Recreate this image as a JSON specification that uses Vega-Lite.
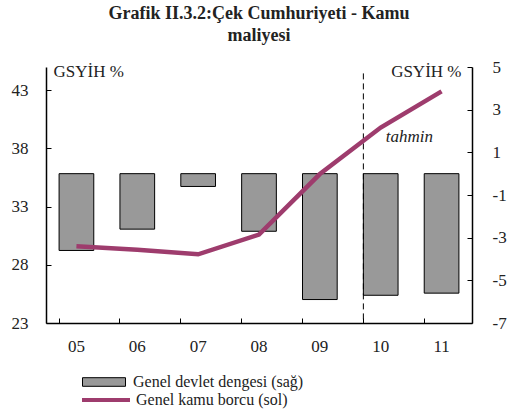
{
  "$schema": "https://vega.github.io/schema/vega-lite/v6.json",
  "autosize": "none",
  "width": 426,
  "height": 256,
  "padding": {"left": 46, "top": 67, "right": 39, "bottom": 91},
  "background": "white",
  "title": {
    "text": ["Grafik II.3.2:Çek Cumhuriyeti - Kamu", "maliyesi"],
    "font": "Liberation Serif",
    "fontSize": 18,
    "fontWeight": "bold",
    "color": "#222222",
    "anchor": "middle",
    "frame": "group",
    "offset": 13,
    "lineHeight": 22
  },
  "config": {
    "view": {"stroke": null},
    "axis": {
      "labelFont": "Liberation Serif",
      "labelFontSize": 17,
      "labelColor": "#222222",
      "domainColor": "#000000",
      "tickColor": "#000000",
      "grid": false,
      "titleFont": "Liberation Serif",
      "titleFontSize": 17,
      "titleFontWeight": "normal",
      "titleColor": "#222222"
    },
    "legend": {
      "labelFont": "Liberation Serif",
      "labelFontSize": 16,
      "labelColor": "#222222",
      "labelLimit": 400
    }
  },
  "data": {
    "values": [
      {"yil": "05", "denge": -3.6, "borc": 29.6},
      {"yil": "06", "denge": -2.6, "borc": 29.3},
      {"yil": "07", "denge": -0.6, "borc": 28.9},
      {"yil": "08", "denge": -2.7, "borc": 30.6},
      {"yil": "09", "denge": -5.9, "borc": 35.8},
      {"yil": "10", "denge": -5.7, "borc": 39.8},
      {"yil": "11", "denge": -5.6, "borc": 42.9}
    ]
  },
  "encoding": {
    "x": {
      "field": "yil",
      "type": "nominal",
      "sort": null,
      "scale": {"paddingInner": 0.43, "paddingOuter": 0.215},
      "axis": {
        "title": null,
        "labelAngle": 0,
        "bandPosition": 0,
        "tickSize": -5,
        "labelPadding": 20,
        "domainWidth": 1.5
      }
    }
  },
  "layer": [
    {
      "layer": [
        {
          "mark": {"type": "bar", "stroke": "#000000", "strokeWidth": 1},
          "encoding": {
            "y": {
              "field": "denge",
              "type": "quantitative",
              "scale": {"domain": [-7, 5], "nice": false},
              "axis": {
                "orient": "right",
                "values": [-7, -5, -3, -1, 1, 3, 5],
                "labelExpr": "replace(datum.label, '−', '-')",
                "tickSize": -5,
                "labelPadding": 25,
                "domainWidth": 1.5,
                "title": "GSYİH %",
                "titleAngle": 0,
                "titleAlign": "right",
                "titleBaseline": "middle",
                "titleX": -11,
                "titleY": 4
              }
            },
            "fill": {
              "datum": "Genel devlet dengesi  (sağ)",
              "type": "nominal",
              "scale": {"range": ["#999999"]},
              "legend": {
                "title": null,
                "orient": "none",
                "legendX": 36,
                "legendY": 293,
                "symbolType": "M-1,-0.2H1V0.2H-1Z",
                "symbolSize": 1849,
                "symbolStrokeColor": "#000000",
                "symbolStrokeWidth": 1,
                "labelOffset": 7
              }
            }
          }
        },
        {
          "data": {"values": [{"yil": "10"}]},
          "mark": {"type": "rule", "strokeDash": [6, 4], "color": "#000000", "strokeWidth": 1},
          "encoding": {
            "x": {"field": "yil", "type": "nominal", "bandPosition": 0},
            "y": {"datum": 4.7, "type": "quantitative"},
            "y2": {"datum": -7}
          }
        },
        {
          "data": {"values": [{"yil": "10", "denge": 1.7, "t": "tahmin"}]},
          "mark": {"type": "text", "font": "Liberation Serif", "fontStyle": "italic", "fontSize": 17, "color": "#222222", "align": "left", "dx": 5},
          "encoding": {
            "x": {"field": "yil", "type": "nominal"},
            "y": {"field": "denge", "type": "quantitative"},
            "text": {"field": "t"}
          }
        }
      ]
    },
    {
      "mark": {"type": "line", "strokeWidth": 4.5},
      "encoding": {
        "y": {
          "field": "borc",
          "type": "quantitative",
          "scale": {"domain": [23, 45], "nice": false, "zero": false},
          "axis": {
            "orient": "left",
            "values": [23, 28, 33, 38, 43],
            "tickSize": -5,
            "labelPadding": 23,
            "domainWidth": 1.5,
            "title": "GSYİH %",
            "titleAngle": 0,
            "titleAlign": "left",
            "titleBaseline": "middle",
            "titleX": 7,
            "titleY": 4
          }
        },
        "stroke": {
          "datum": "Genel kamu borcu  (sol)",
          "type": "nominal",
          "scale": {"range": ["#9e3c6d"]},
          "legend": {
            "title": null,
            "orient": "none",
            "legendX": 34,
            "legendY": 307,
            "symbolType": "stroke",
            "symbolSize": 2304,
            "symbolStrokeWidth": 4,
            "labelOffset": 4
          }
        }
      }
    }
  ],
  "resolve": {"scale": {"y": "independent", "fill": "independent", "stroke": "independent"}}
}
